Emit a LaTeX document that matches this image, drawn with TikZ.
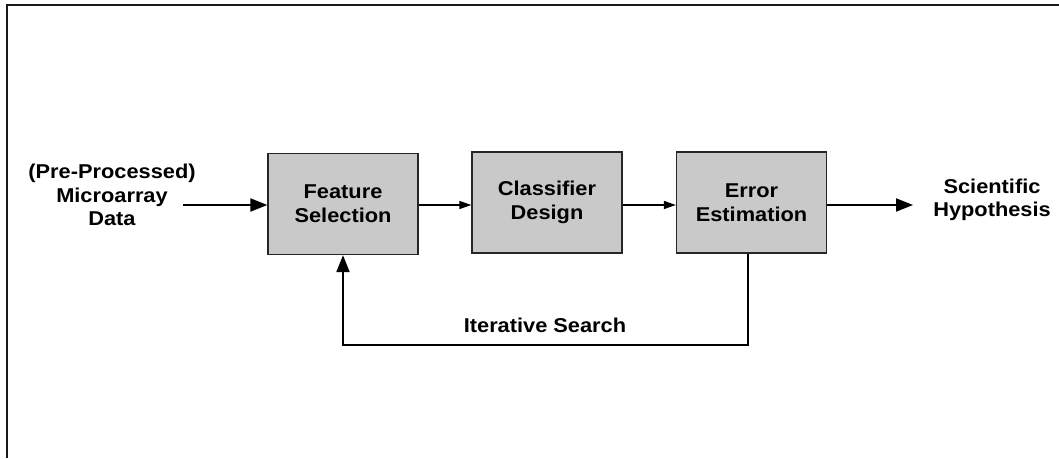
\documentclass[tikz,border=0pt]{standalone}
\usepackage{fontspec}
\setmainfont[FakeStretch=1.09]{Liberation Sans}
\usetikzlibrary{arrows.meta}
\begin{document}
\begin{tikzpicture}[x=1pt,y=-1pt,
  blk/.style={draw=black!85,line width=1.3pt,fill=black!21,minimum width=150pt,minimum height=101pt,inner sep=0pt,align=center,font=\fontsize{20}{24}\selectfont\bfseries},
  lbl/.style={align=center,font=\fontsize{20}{23.5}\selectfont\bfseries,inner sep=0pt},
  thin/.style={line width=1.3pt,-{Triangle[length=12pt,width=8pt]}},
  thick/.style={line width=2pt,-{Triangle[length=17pt,width=13pt]}}]
\useasboundingbox (0,0) rectangle (1059,458);
\draw[line width=2.2pt,black!90] (7,458) -- (7,5) -- (1059,5);
\node[blk] (fs) at (343,204) {Feature\\Selection};
\node[blk] (cd) at (547,202.5) {Classifier\\Design};
\node[blk] (ee) at (751.5,202.5) {Error\\Estimation};
\node[lbl] (in) at (112,195) {(Pre-Processed)\\Microarray\\Data};
\node[lbl] (out) at (992,200) {Scientific\\Hypothesis};
\coordinate (c1) at (748,345);
\coordinate (c2) at (343,345);
\draw[thick] (183,205) -- (fs.west |- 0,205);
\draw[thin] (fs.east |- 0,205) -- (cd.west |- 0,205);
\draw[thin] (cd.east |- 0,205) -- (ee.west |- 0,205);
\draw[thick] (ee.east |- 0,205) -- (913,205);
\draw[thick] (ee.south -| c1) -- (c1) -- (c2) -- (fs.south);
\node[lbl] (it) at (545,325) {Iterative Search};
\end{tikzpicture}
\end{document}
